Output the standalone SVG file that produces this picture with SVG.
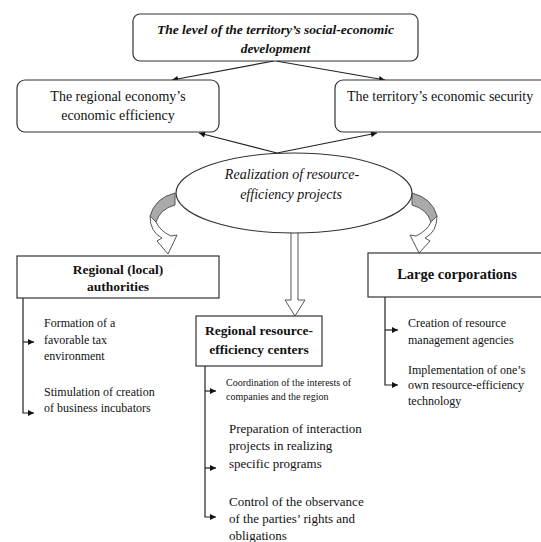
<svg xmlns="http://www.w3.org/2000/svg" width="541" height="542" viewBox="0 0 541 542">
<defs>
<marker id="ah" viewBox="0 0 10 10" refX="10" refY="5" markerWidth="8" markerHeight="6" markerUnits="userSpaceOnUse" orient="auto">
<path d="M0,0 L10,5 L0,10 Z" fill="#111"/>
</marker>
<style>
.box{fill:#fff;stroke:#333;stroke-width:1.2}
.ln{fill:none;stroke:#222;stroke-width:1.2}
.t{font-family:"Liberation Serif","Times New Roman",serif;fill:#111}
.bi{font-weight:bold;font-style:italic;font-size:13.5px}
.b{font-weight:bold}
.i{font-style:italic}
.hollow{fill:#fff;stroke:#555;stroke-width:1}
.gray{fill:#aaa;stroke:#555;stroke-width:1}
</style>
</defs>
<rect width="541" height="542" fill="#fff"/>

<g id="connectors">
<line class="ln" x1="274" y1="61" x2="172" y2="80" marker-end="url(#ah)"/>
<line class="ln" x1="276" y1="61" x2="385" y2="80" marker-end="url(#ah)"/>
<line class="ln" x1="277" y1="153" x2="199" y2="133" marker-end="url(#ah)"/>
<line class="ln" x1="277" y1="153" x2="377" y2="133" marker-end="url(#ah)"/>
<path class="hollow" d="M291,232 L291,300 L285,300 L295,316 L305,300 L298,300 L298,232"/>
<path class="gray" d="M175,193 Q155,198 150,216 L156,222 Q160,209 175,205 Z"/>
<path class="hollow" d="M150,216 Q150,232 162,238 L157,241 L168,254 L177,235 L171,236 Q160,231 156,222 Z"/>
<path class="gray" d="M412,193 Q432,198 437,216 L431,222 Q427,209 412,205 Z"/>
<path class="hollow" d="M437,216 Q437,232 425,238 L430,241 L419,253 L410,235 L416,236 Q427,231 431,222 Z"/>
<polyline class="ln" points="23,298 23,413 34,413" marker-end="url(#ah)"/>
<line class="ln" x1="23" y1="342" x2="34" y2="342" marker-end="url(#ah)"/>
<polyline class="ln" points="205,366 205,517 216,517" marker-end="url(#ah)"/>
<line class="ln" x1="205" y1="391" x2="216" y2="391" marker-end="url(#ah)"/>
<line class="ln" x1="205" y1="468" x2="216" y2="468" marker-end="url(#ah)"/>
<polyline class="ln" points="385,297 385,385 398,385" marker-end="url(#ah)"/>
<line class="ln" x1="385" y1="330" x2="398" y2="330" marker-end="url(#ah)"/>
</g>

<g id="top">
<rect class="box" x="133" y="14" width="285" height="47" rx="7"/>
<text class="t bi" x="275.5" y="34" text-anchor="middle">The level of the territory’s social-economic</text>
<text class="t bi" x="275.5" y="53" text-anchor="middle">development</text>
</g>

<g id="efficiency">
<rect class="box" x="17" y="80" width="202" height="52" rx="8"/>
<text class="t" font-size="14" x="118" y="101" text-anchor="middle">The regional economy’s</text>
<text class="t" font-size="14" x="118" y="120" text-anchor="middle">economic efficiency</text>
</g>

<g id="security">
<rect class="box" x="335" y="80" width="230" height="52" rx="8"/>
<text class="t" font-size="14" x="347" y="101">The territory’s economic security</text>
</g>

<g id="projects">
<ellipse class="box" cx="294" cy="193" rx="118" ry="40"/>
<text class="t i" font-size="14" x="292" y="179" text-anchor="middle">Realization of resource-</text>
<text class="t i" font-size="14" x="291" y="199" text-anchor="middle">efficiency projects</text>
</g>

<g id="authorities">
<rect class="box" x="17" y="256" width="202" height="42"/>
<text class="t b" font-size="13.5" x="118" y="274" text-anchor="middle">Regional (local)</text>
<text class="t b" font-size="13.5" x="118" y="291" text-anchor="middle">authorities</text>
<text class="t" font-size="12" x="44" y="327">Formation of a</text>
<text class="t" font-size="12" x="44" y="344">favorable tax</text>
<text class="t" font-size="12" x="44" y="360">environment</text>
<text class="t" font-size="12" x="44" y="396">Stimulation of creation</text>
<text class="t" font-size="12" x="44" y="412">of business incubators</text>
</g>

<g id="centers">
<rect class="box" x="196" y="316" width="126" height="50"/>
<text class="t b" font-size="13.5" x="259" y="335" text-anchor="middle">Regional resource-</text>
<text class="t b" font-size="13.5" x="259" y="354" text-anchor="middle">efficiency centers</text>
<text class="t" font-size="10" x="226" y="386">Coordination of the interests of</text>
<text class="t" font-size="10" x="226" y="400">companies and the region</text>
<text class="t" font-size="13" x="229" y="433">Preparation of interaction</text>
<text class="t" font-size="13" x="229" y="450">projects in realizing</text>
<text class="t" font-size="13" x="229" y="468">specific programs</text>
<text class="t" font-size="13" x="229" y="506">Control of the observance</text>
<text class="t" font-size="13" x="229" y="523">of the parties’ rights and</text>
<text class="t" font-size="13" x="229" y="540">obligations</text>
</g>

<g id="corporations">
<rect class="box" x="368" y="253" width="190" height="44"/>
<text class="t b" font-size="14.5" x="457" y="279" text-anchor="middle">Large corporations</text>
<text class="t" font-size="12" x="408" y="327">Creation of resource</text>
<text class="t" font-size="12" x="408" y="344">management agencies</text>
<text class="t" font-size="12" x="408" y="374">Implementation of one’s</text>
<text class="t" font-size="12" x="408" y="389">own resource-efficiency</text>
<text class="t" font-size="12" x="408" y="405">technology</text>
</g>
</svg>
